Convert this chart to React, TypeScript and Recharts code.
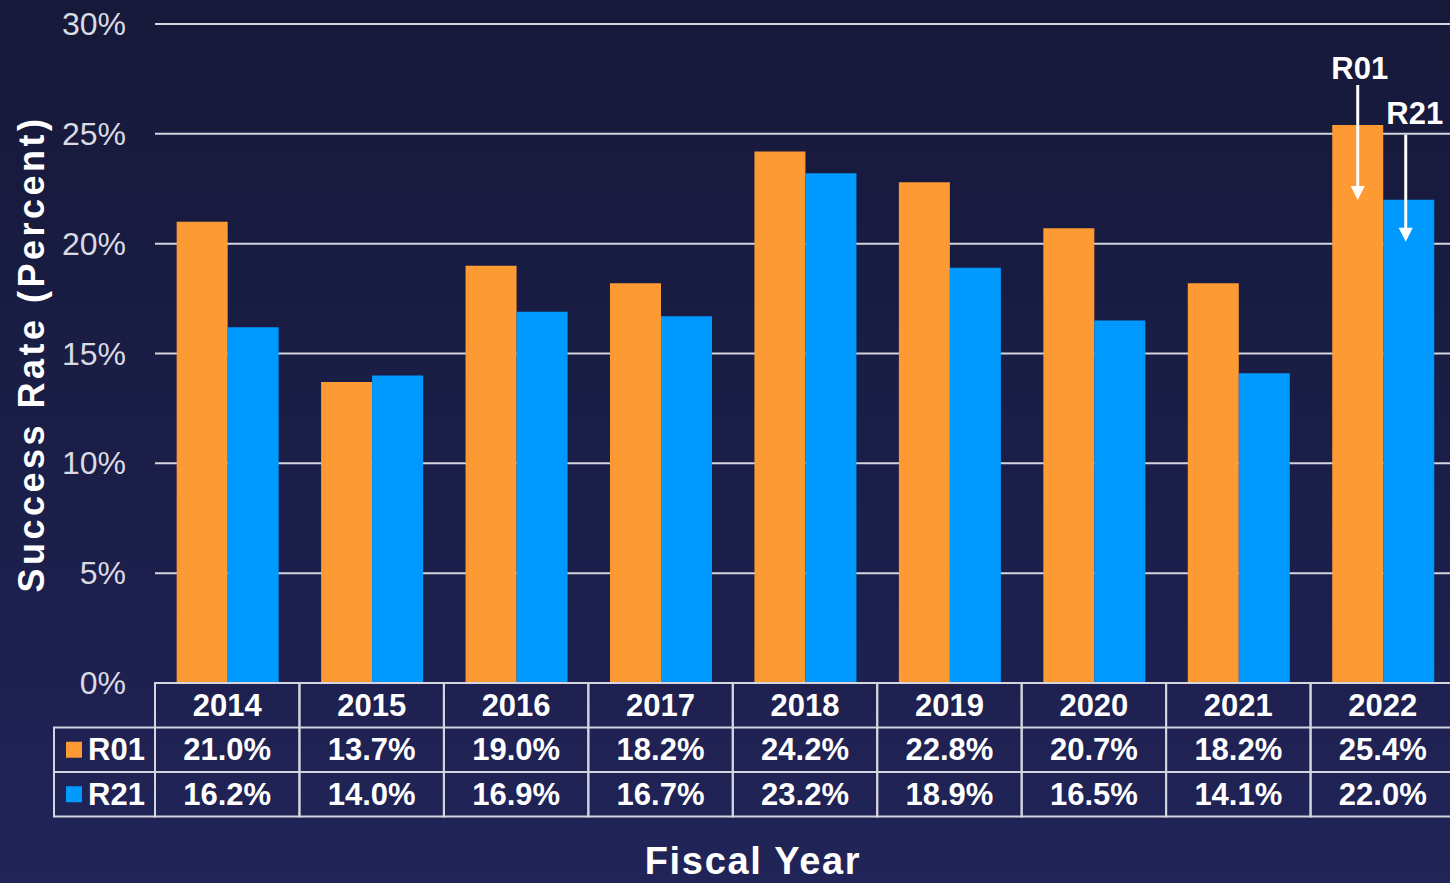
import { Bar, BarChart, CartesianGrid, Customized, XAxis, YAxis } from "recharts";

const YEARS = ["2014", "2015", "2016", "2017", "2018", "2019", "2020", "2021", "2022"];
const R01_RATES = [21.0, 13.7, 19.0, 18.2, 24.2, 22.8, 20.7, 18.2, 25.4];
const R21_RATES = [16.2, 14.0, 16.9, 16.7, 23.2, 18.9, 16.5, 14.1, 22.0];
const Y_TICKS = [0, 5, 10, 15, 20, 25, 30];

const SERIES = [
  { key: "r01", name: "R01", color: "#fd9a33" },
  { key: "r21", name: "R21", color: "#0099ff" },
];

const data = YEARS.map((year, i) => ({ year, r01: R01_RATES[i], r21: R21_RATES[i] }));

const CHART_W = 1455;
const CHART_H = 883;
const PLOT_LEFT = 155;
const PLOT_TOP = 24;
const PLOT_BOTTOM = 683;
const COL_W = (CHART_W - PLOT_LEFT) / YEARS.length;
const ROW_H = 44.5;
const LINE = "#d4d5de";
const FONT = "'Liberation Sans', Arial, sans-serif";

function TableTick(props: any) {
  const { x, payload } = props;
  const i = YEARS.indexOf(String(payload.value));
  const left = x - COL_W / 2;
  const cells = [payload.value, `${R01_RATES[i].toFixed(1)}%`, `${R21_RATES[i].toFixed(1)}%`];
  return (
    <g>
      <rect x={left} y={PLOT_BOTTOM} width={COL_W} height={ROW_H * 3} fill="none" stroke={LINE} strokeWidth={2} />
      <line x1={left} x2={left + COL_W} y1={PLOT_BOTTOM + ROW_H} y2={PLOT_BOTTOM + ROW_H} stroke={LINE} strokeWidth={2} />
      <line x1={left} x2={left + COL_W} y1={PLOT_BOTTOM + ROW_H * 2} y2={PLOT_BOTTOM + ROW_H * 2} stroke={LINE} strokeWidth={2} />
      {cells.map((c, r) => (
        <text
          key={r}
          x={x}
          y={PLOT_BOTTOM + ROW_H * (r + 0.5)}
          textAnchor="middle"
          dominantBaseline="central"
          fill="#ffffff"
          fontSize={31}
          fontWeight="bold"
          fontFamily={FONT}
        >
          {c}
        </text>
      ))}
    </g>
  );
}

function PercentTick(props: any) {
  const { y, payload } = props;
  return (
    <text x={126} y={y} textAnchor="end" dominantBaseline="central" fill="#d9dae2" fontSize={32} fontFamily={FONT}>
      {`${payload.value}%`}
    </text>
  );
}

function Extras() {
  const left = 54;
  return (
    <g>
      <rect x={left} y={PLOT_BOTTOM + ROW_H} width={PLOT_LEFT - left} height={ROW_H * 2} fill="none" stroke={LINE} strokeWidth={2} />
      <line x1={left} x2={PLOT_LEFT} y1={PLOT_BOTTOM + ROW_H * 2} y2={PLOT_BOTTOM + ROW_H * 2} stroke={LINE} strokeWidth={2} />
      {SERIES.map((s, r) => {
        const cy = PLOT_BOTTOM + ROW_H * (r + 1.5);
        return (
          <g key={s.key}>
            <rect x={66} y={cy - 8} width={16} height={16} fill={s.color} />
            <text x={88} y={cy} dominantBaseline="central" fill="#ffffff" fontSize={31} fontWeight="bold" fontFamily={FONT}>
              {s.name}
            </text>
          </g>
        );
      })}
      <text
        transform="translate(44 354) rotate(-90)"
        textAnchor="middle"
        fill="#ffffff"
        fontSize={36}
        fontWeight="bold"
        letterSpacing={3.5}
        fontFamily={FONT}
      >
        Success Rate (Percent)
      </text>
      <text x={753} y={874} textAnchor="middle" fill="#ffffff" fontSize={38} fontWeight="bold" letterSpacing={1.7} fontFamily={FONT}>
        Fiscal Year
      </text>
    </g>
  );
}

const ANNOT: Record<string, { label: string; textDy: number; textDx: number; from: number; to: number; dx: number }> = {
  r01: { label: "R01", textDy: -46, textDx: 2, from: -40, to: 75, dx: 0 },
  r21: { label: "R21", textDy: -76, textDx: 6, from: -65, to: 42, dx: -3 },
};

function makeArrowLabel(key: string) {
  return (props: any) => {
    const { x, y, width, index } = props;
    if (index !== YEARS.length - 1) return null;
    const a = ANNOT[key];
    const cx = Number(x) + Number(width) / 2;
    const top = Number(y);
    const ax = cx + a.dx;
    const tip = top + a.to;
    return (
      <g>
        <text x={cx + a.textDx} y={top + a.textDy} textAnchor="middle" fill="#ffffff" fontSize={31} fontWeight="bold" fontFamily={FONT}>
          {a.label}
        </text>
        <line x1={ax} x2={ax} y1={top + a.from} y2={tip - 10} stroke="#ffffff" strokeWidth={3} />
        <path d={`M${ax - 7},${tip - 14} L${ax + 7},${tip - 14} L${ax},${tip} Z`} fill="#ffffff" />
      </g>
    );
  };
}

export default function App() {
  return (
    <div
      style={{
        position: "absolute",
        left: 0,
        top: 0,
        width: 1450,
        height: 883,
        overflow: "hidden",
        background: "linear-gradient(180deg, #161939 0%, #1b1e48 55%, #212458 100%)",
      }}
    >
      <BarChart
        width={CHART_W}
        height={CHART_H}
        data={data}
        margin={{ top: PLOT_TOP, right: 0, bottom: 0, left: 0 }}
        barCategoryGap="15%"
        barGap={0}
      >
        <CartesianGrid vertical={false} stroke={LINE} strokeWidth={2} />
        <XAxis
          dataKey="year"
          height={CHART_H - PLOT_BOTTOM}
          axisLine={false}
          tickLine={false}
          tickSize={0}
          tickMargin={0}
          interval={0}
          tick={<TableTick />}
        />
        <YAxis
          width={PLOT_LEFT}
          domain={[0, 30]}
          ticks={Y_TICKS}
          axisLine={false}
          tickLine={false}
          tick={<PercentTick />}
        />
        {SERIES.map((s) => (
          <Bar key={s.key} dataKey={s.key} name={s.name} fill={s.color} isAnimationActive={false} label={makeArrowLabel(s.key)} />
        ))}
        <Customized component={<Extras />} />
      </BarChart>
    </div>
  );
}
